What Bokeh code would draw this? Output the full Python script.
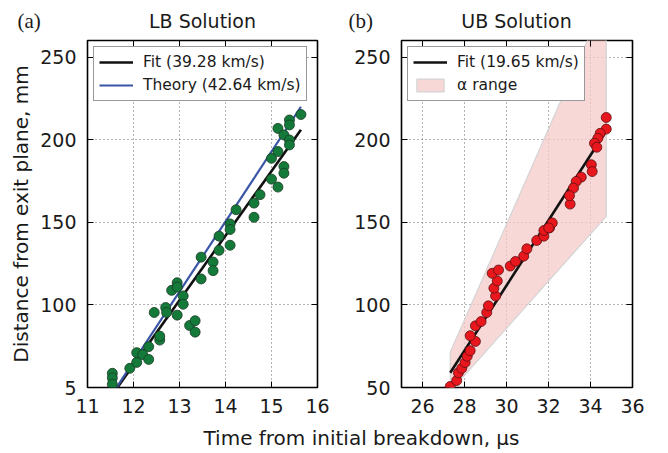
from bokeh.plotting import figure
from bokeh.models import (LinearAxis, FixedTicker, Range1d, Label, Legend, LegendItem)
from bokeh.layouts import column, row
from bokeh.embed import file_html
from bokeh.resources import INLINE

# ---------------- data ----------------
# (a) LB solution: time (us) vs distance (mm)
lb_t = [11.54, 11.54, 11.54, 11.92, 12.07, 12.07, 12.20, 12.33, 12.33, 12.57, 12.57,
        12.45, 12.70, 12.72, 12.95, 12.83, 12.95, 12.95, 13.08, 13.08, 13.22, 13.34,
        13.34, 13.47, 13.47, 13.73, 13.73, 13.86, 13.86, 14.10, 14.10, 14.10, 14.23,
        14.62, 14.62, 14.75, 15.00, 15.00, 15.14, 15.14, 15.14, 15.27, 15.27, 15.27,
        15.39, 15.39, 15.39, 15.39, 15.64]
lb_d = [58.6, 55.8, 52.0, 61.6, 65.2, 71.1, 69.9, 67.0, 74.7, 78.7, 81.1,
        95.4, 98.4, 95.4, 93.8, 108.8, 113.4, 110.8, 105.4, 100.4, 87.5, 90.4,
        83.5, 115.7, 128.9, 125.9, 120.7, 141.6, 133.0, 149.0, 145.6, 136.1, 157.6,
        161.6, 153.0, 166.7, 188.7, 176.1, 206.8, 192.8, 171.3, 202.8, 183.7, 179.7,
        211.9, 208.9, 199.8, 196.8, 215.2]
lb_fit_t = [11.65, 15.64]
lb_fit_d = [50.0, 206.0]
lb_theory_t = [11.63, 15.64]
lb_theory_d = [50.0, 219.9]

# (b) UB solution
ub_t = [27.32, 27.63, 27.71, 27.87, 28.03, 28.13, 28.27, 28.52, 28.27, 28.52, 28.79,
        29.06, 29.14, 29.48, 29.40, 29.56, 29.32, 29.62, 30.18, 30.43, 30.82, 30.97,
        31.44, 31.78, 31.78, 32.05, 32.18, 33.03, 34.75, 34.75, 34.46, 34.35, 34.19,
        34.30, 34.04, 34.08, 33.56, 33.32, 33.19, 33.00, 32.01]
ub_d = [50.6, 54.2, 58.9, 61.6, 65.1, 68.9, 72.3, 77.9, 81.3, 87.3, 89.9,
        95.4, 99.4, 105.4, 110.1, 114.5, 119.1, 121.1, 123.5, 126.3, 129.5, 133.9,
        139.0, 141.6, 145.0, 146.6, 149.6, 161.0, 213.4, 206.4, 203.8, 200.8, 197.8,
        195.4, 184.8, 180.7, 177.3, 174.7, 170.7, 166.1, 146.6]
ub_fit_t = [27.32, 34.75]
ub_fit_d = [58.9, 205.4]
alpha_t = [27.32, 34.75]
alpha_lo = [47.6, 153.6]
alpha_hi = [71.3, 286.0]

y_ticks = [50, 100, 150, 200, 250]
lb_x_ticks = [11, 12, 13, 14, 15, 16]
ub_x_ticks = [26, 28, 30, 32, 34, 36]
panel_tags = ["(a)", "(b)"]
panel_titles = ["LB Solution", "UB Solution"]
x_label = "Time from initial breakdown, μs"
y_label = "Distance from exit plane, mm"

# ---------------- style ----------------
FONT = "DejaVu Sans"
SERIF = "Liberation Serif"
TXT = "#1a1a1a"
TICK_FS = "19px"
W = 666


def style(p, xticks):
    p.title.visible = False
    p.outline_line_color = "black"
    p.outline_line_width = 1.6
    p.background_fill_color = "white"
    p.border_fill_color = "white"
    for ax in p.axis:
        ax.axis_line_color = None
        ax.major_tick_in = 6
        ax.major_tick_out = 0
        ax.major_tick_line_color = "black"
        ax.minor_tick_line_color = None
        ax.major_label_text_font = FONT
        ax.major_label_text_font_size = TICK_FS
        ax.major_label_text_color = TXT
        ax.major_label_standoff = 11
    p.xaxis.ticker = FixedTicker(ticks=xticks)
    p.yaxis.ticker = FixedTicker(ticks=y_ticks)
    p.xgrid.ticker = FixedTicker(ticks=xticks)
    p.ygrid.ticker = FixedTicker(ticks=y_ticks)
    p.grid.grid_line_color = "#666666"
    p.grid.grid_line_dash = "1 3"
    p.grid.grid_line_width = 1
    # mirrored ticks top / right
    top = LinearAxis(ticker=FixedTicker(ticks=xticks), major_label_text_font_size="0px",
                     axis_line_color=None, major_tick_in=6, major_tick_out=0,
                     minor_tick_line_color=None, major_label_standoff=0)
    right = LinearAxis(ticker=FixedTicker(ticks=y_ticks), major_label_text_font_size="0px",
                       axis_line_color=None, major_tick_in=6, major_tick_out=0,
                       minor_tick_line_color=None, major_label_standoff=0)
    p.add_layout(top, "above")
    p.add_layout(right, "right")


def make_legend(p, items):
    lg = Legend(items=items, location="top_left")
    lg.label_text_font = FONT
    lg.label_text_font_size = "15.5px"
    lg.label_text_color = TXT
    lg.glyph_width = 34
    lg.glyph_height = 16
    lg.label_height = 20
    lg.label_standoff = 10
    lg.padding = 5
    lg.spacing = 3
    lg.margin = 6
    lg.border_line_color = "#333333"
    lg.border_line_width = 1.2
    lg.background_fill_color = "white"
    lg.background_fill_alpha = 1
    p.add_layout(lg)


def text_strip(height):
    s = figure(frame_width=W, frame_height=height, x_range=Range1d(0, W),
               y_range=Range1d(0, height), output_backend="svg", toolbar_location=None,
               min_border=0, x_axis_type=None, y_axis_type=None)
    s.title.visible = False
    s.outline_line_color = None
    s.grid.visible = False
    return s


# ---------------- header (panel tags + titles) ----------------
HH = 36
head = text_strip(HH)
head_x = [17, 202, 348, 516]
head_txt = [panel_tags[0], panel_titles[0], panel_tags[1], panel_titles[1]]
for hx, ht in zip(head_x, head_txt):
    is_tag = ht.startswith("(")
    head.add_layout(Label(x=hx, y=HH - 20, text=ht,
                          text_font=SERIF if is_tag else FONT,
                          text_font_size="21px" if is_tag else "19px",
                          text_color=TXT, text_baseline="middle",
                          text_align="left" if is_tag else "center"))

# ---------------- (a) ----------------
p1 = figure(frame_width=230, frame_height=347, x_range=Range1d(11, 16), y_range=Range1d(50, 260),
            output_backend="svg", toolbar_location=None,
            min_border_left=87, min_border_right=29, min_border_top=4, min_border_bottom=34)
style(p1, lb_x_ticks)
p1.yaxis[0].major_label_overrides = {50: "5"}
p1.yaxis[0].axis_label = y_label
p1.yaxis[0].axis_label_text_font = FONT
p1.yaxis[0].axis_label_text_font_size = "20px"
p1.yaxis[0].axis_label_text_font_style = "normal"
p1.yaxis[0].axis_label_text_color = TXT
p1.yaxis[0].axis_label_standoff = 4

r_fit1 = p1.line(lb_fit_t, lb_fit_d, line_color="#111111", line_width=2.6)
r_th = p1.line(lb_theory_t, lb_theory_d, line_color="#3a55a6", line_width=2.2)
p1.scatter(lb_t, lb_d, size=10, fill_color="#137a3a", line_color="#1c3a24", line_width=0.8)
make_legend(p1, [LegendItem(label="Fit (39.28 km/s)", renderers=[r_fit1]),
                 LegendItem(label="Theory (42.64 km/s)", renderers=[r_th])])

# ---------------- (b) ----------------
p2 = figure(frame_width=231, frame_height=347, x_range=Range1d(25, 36), y_range=Range1d(50, 260),
            output_backend="svg", toolbar_location=None,
            min_border_left=55, min_border_right=34, min_border_top=4, min_border_bottom=34)
style(p2, ub_x_ticks)
r_alpha = p2.patch(x=alpha_t + alpha_t[::-1], y=alpha_lo + alpha_hi[::-1],
                   fill_color="#f6caca", fill_alpha=0.75, line_color="#d4d4d4", line_width=1.2)
r_fit2 = p2.line(ub_fit_t, ub_fit_d, line_color="#111111", line_width=2.6)
p2.scatter(ub_t, ub_d, size=10, fill_color="#e8161d", line_color="#5a1010", line_width=0.8)
make_legend(p2, [LegendItem(label="Fit (19.65 km/s)", renderers=[r_fit2]),
                 LegendItem(label="α range", renderers=[r_alpha])])

# ---------------- shared x label ----------------
FH = 30
foot = text_strip(FH)
foot.add_layout(Label(x=361, y=FH / 2 - 1, text=x_label, text_font=FONT,
                      text_font_size="20px", text_color=TXT, text_align="center",
                      text_baseline="middle"))

layout = column(head, row(p1, p2), foot)
open("out.html", "w").write(file_html(layout, INLINE))
